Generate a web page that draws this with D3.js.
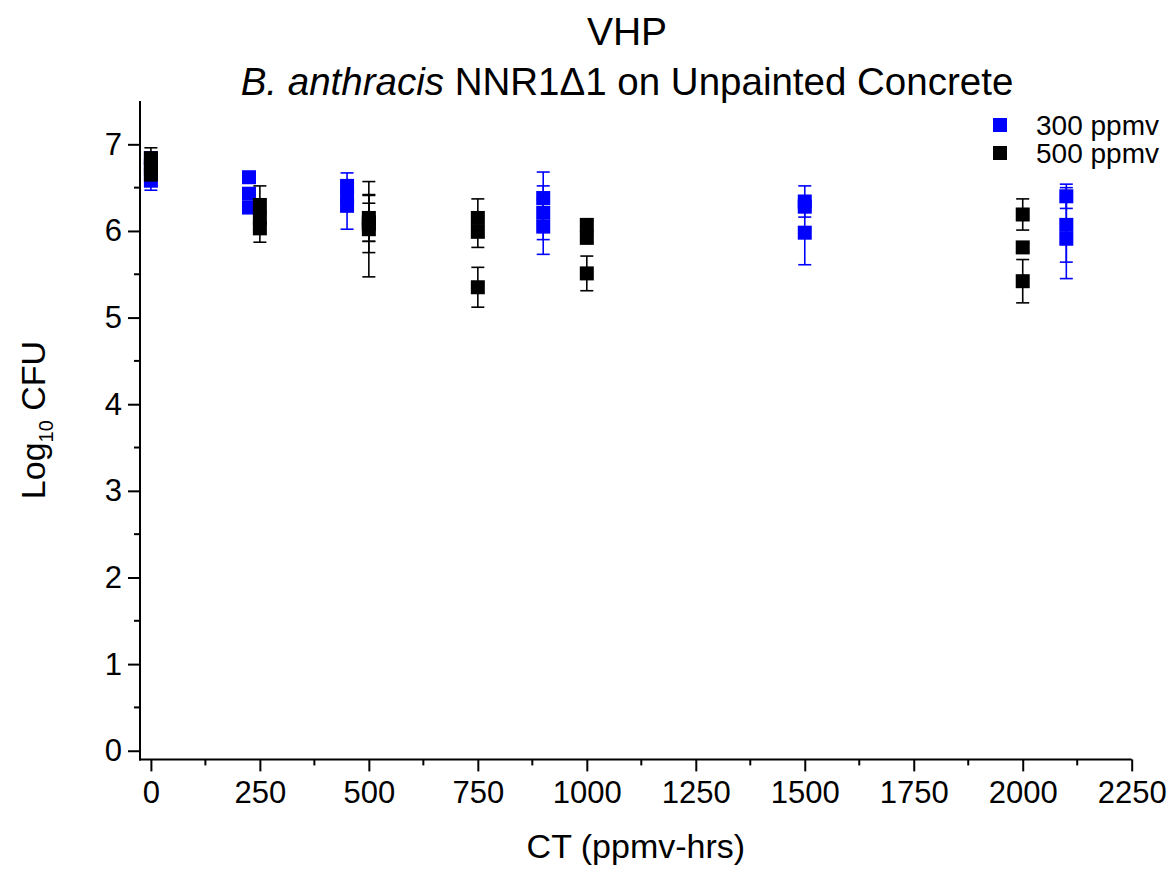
<!DOCTYPE html>
<html>
<head>
<meta charset="utf-8">
<script src="https://cdn.jsdelivr.net/npm/d3@7"></script>
<style>
  body { margin: 0; background: #fff; }
  svg text { font-family: "Liberation Sans", Arial, Helvetica, sans-serif; fill: #000; }
</style>
</head>
<body>
<svg id="chart" width="1173" height="872"></svg>
<script>
// 300 ppmv replicate coupons: CT (ppmv-hrs), log10 CFU, error
const ct300  = [0, 0, 0, 225, 225, 225, 450, 450, 450, 900, 900, 900, 1500, 1500, 1500, 2100, 2100, 2100];
const log300 = [6.84, 6.72, 6.58, 6.62, 6.43, 6.27, 6.52, 6.40, 6.29, 6.38, 6.21, 6.05, 6.34, 6.28, 5.98, 6.40, 6.07, 5.91];
const err300 = [0.05, 0.05, 0.11, 0.04, 0.05, 0.06, 0.15, 0.05, 0.27, 0.30, 0.31, 0.32, 0.18, 0.05, 0.37, 0.14, 0.43, 0.46];

// 500 ppmv replicate coupons
const ct500  = [0, 0, 0, 250, 250, 250, 500, 500, 500, 500, 750, 750, 750, 1000, 1000, 1000, 2000, 2000, 2000];
const log500 = [6.84, 6.75, 6.65, 6.30, 6.15, 6.03, 6.15, 6.10, 6.08, 6.02, 6.15, 5.99, 5.35, 6.07, 5.92, 5.51, 6.19, 5.81, 5.42];
const err500 = [0.12, 0.05, 0.05, 0.22, 0.05, 0.16, 0.27, 0.22, 0.33, 0.55, 0.22, 0.18, 0.23, 0.05, 0.05, 0.20, 0.18, 0.05, 0.25];

const seriesNames  = ["300 ppmv", "500 ppmv"];
const seriesColors = ["#0000ff", "#000000"];
const xTicks = [0, 250, 500, 750, 1000, 1250, 1500, 1750, 2000, 2250];
const yTicks = [0, 1, 2, 3, 4, 5, 6, 7];

const svg = d3.select("#chart");
const plotL = 140, plotR = 1131.7, plotT = 101, plotB = 759.4;

const x = d3.scaleLinear().domain([-25, 2250]).range([plotL, plotR]);
const y = d3.scaleLinear().domain([-0.1, 7.5]).range([plotB, plotT]);

// Axes
const xAxis = d3.axisBottom(x).tickValues(xTicks).tickSize(12).tickPadding(10).tickFormat(d3.format("d"));
const yAxis = d3.axisLeft(y).tickValues(yTicks).tickSize(12).tickPadding(6).tickFormat(d3.format("d"));

const gx = svg.append("g").attr("transform", `translate(0,${plotB})`).call(xAxis);
const gy = svg.append("g").attr("transform", `translate(${plotL},0)`).call(yAxis);

// minor ticks
const xMinor = d3.range(125, 2250, 250);
const yMinor = d3.range(0.5, 7.5, 1);
gx.selectAll(".minor").data(xMinor).enter().append("line")
  .attr("class", "minor").attr("x1", d => x(d)).attr("x2", d => x(d))
  .attr("y1", 0).attr("y2", 6).attr("stroke", "#000").attr("stroke-width", 2);
gy.selectAll(".minor").data(yMinor).enter().append("line")
  .attr("class", "minor").attr("y1", d => y(d)).attr("y2", d => y(d))
  .attr("x1", 0).attr("x2", -6).attr("stroke", "#000").attr("stroke-width", 2);

[gx, gy].forEach(g => {
  g.select(".domain").attr("stroke", "#000").attr("stroke-width", 2);
  g.selectAll(".tick line").attr("stroke", "#000").attr("stroke-width", 2);
  g.selectAll(".tick text").attr("font-size", 31).attr("fill", "#000")
    .style("font-family", '"Liberation Sans", Arial, sans-serif');
});
gx.select(".domain").attr("d", `M${plotL - 1},0H${plotR}`);
gy.select(".domain").attr("d", `M0,${plotT}V${plotB + 1}`);

// Series: error bars then square markers
function drawSeries(cts, vals, errs, color) {
  const pts = cts.map((c, i) => ({ c, v: vals[i], e: errs[i] }));
  const g = svg.append("g");
  const cap = 6.5, half = 7;
  pts.forEach(p => {
    const cx = x(p.c), y1 = y(p.v + p.e), y2 = y(p.v - p.e);
    g.append("line").attr("x1", cx).attr("x2", cx).attr("y1", y1).attr("y2", y2)
      .attr("stroke", color).attr("stroke-width", 1.6);
    g.append("line").attr("x1", cx - cap).attr("x2", cx + cap).attr("y1", y1).attr("y2", y1)
      .attr("stroke", color).attr("stroke-width", 1.6);
    g.append("line").attr("x1", cx - cap).attr("x2", cx + cap).attr("y1", y2).attr("y2", y2)
      .attr("stroke", color).attr("stroke-width", 1.6);
  });
  g.selectAll("rect").data(pts).enter().append("rect")
    .attr("x", d => x(d.c) - half).attr("y", d => y(d.v) - half)
    .attr("width", half * 2).attr("height", half * 2)
    .attr("fill", color);
}
drawSeries(ct300, log300, err300, seriesColors[0]);
drawSeries(ct500, log500, err500, seriesColors[1]);

// Titles
svg.append("text").attr("x", 627).attr("y", 45).attr("text-anchor", "middle")
  .attr("font-size", 39).text("VHP");
const sub = svg.append("text").attr("x", 627).attr("y", 95).attr("text-anchor", "middle")
  .attr("font-size", 38.5);
sub.append("tspan").attr("font-style", "italic").text("B. anthracis");
sub.append("tspan").text(" NNR1\u03941 on Unpainted Concrete");

// Axis titles
svg.append("text").attr("x", (plotL + plotR) / 2).attr("y", 858).attr("text-anchor", "middle")
  .attr("font-size", 34).text("CT (ppmv-hrs)");
const yt = svg.append("text").attr("transform", `translate(45,420) rotate(-90)`)
  .attr("text-anchor", "middle").attr("font-size", 34);
yt.append("tspan").text("Log");
yt.append("tspan").attr("font-size", 20).attr("dy", 8).text("10");
yt.append("tspan").attr("dy", -8).text(" CFU");

// Legend
const lg = svg.append("g");
seriesNames.forEach((name, i) => {
  const ly = 125 + i * 28;
  lg.append("rect").attr("x", 993).attr("y", ly - 7).attr("width", 14).attr("height", 14)
    .attr("fill", seriesColors[i]);
  lg.append("text").attr("x", 1036).attr("y", ly + 10).attr("font-size", 28).text(name);
});
</script>
</body>
</html>
